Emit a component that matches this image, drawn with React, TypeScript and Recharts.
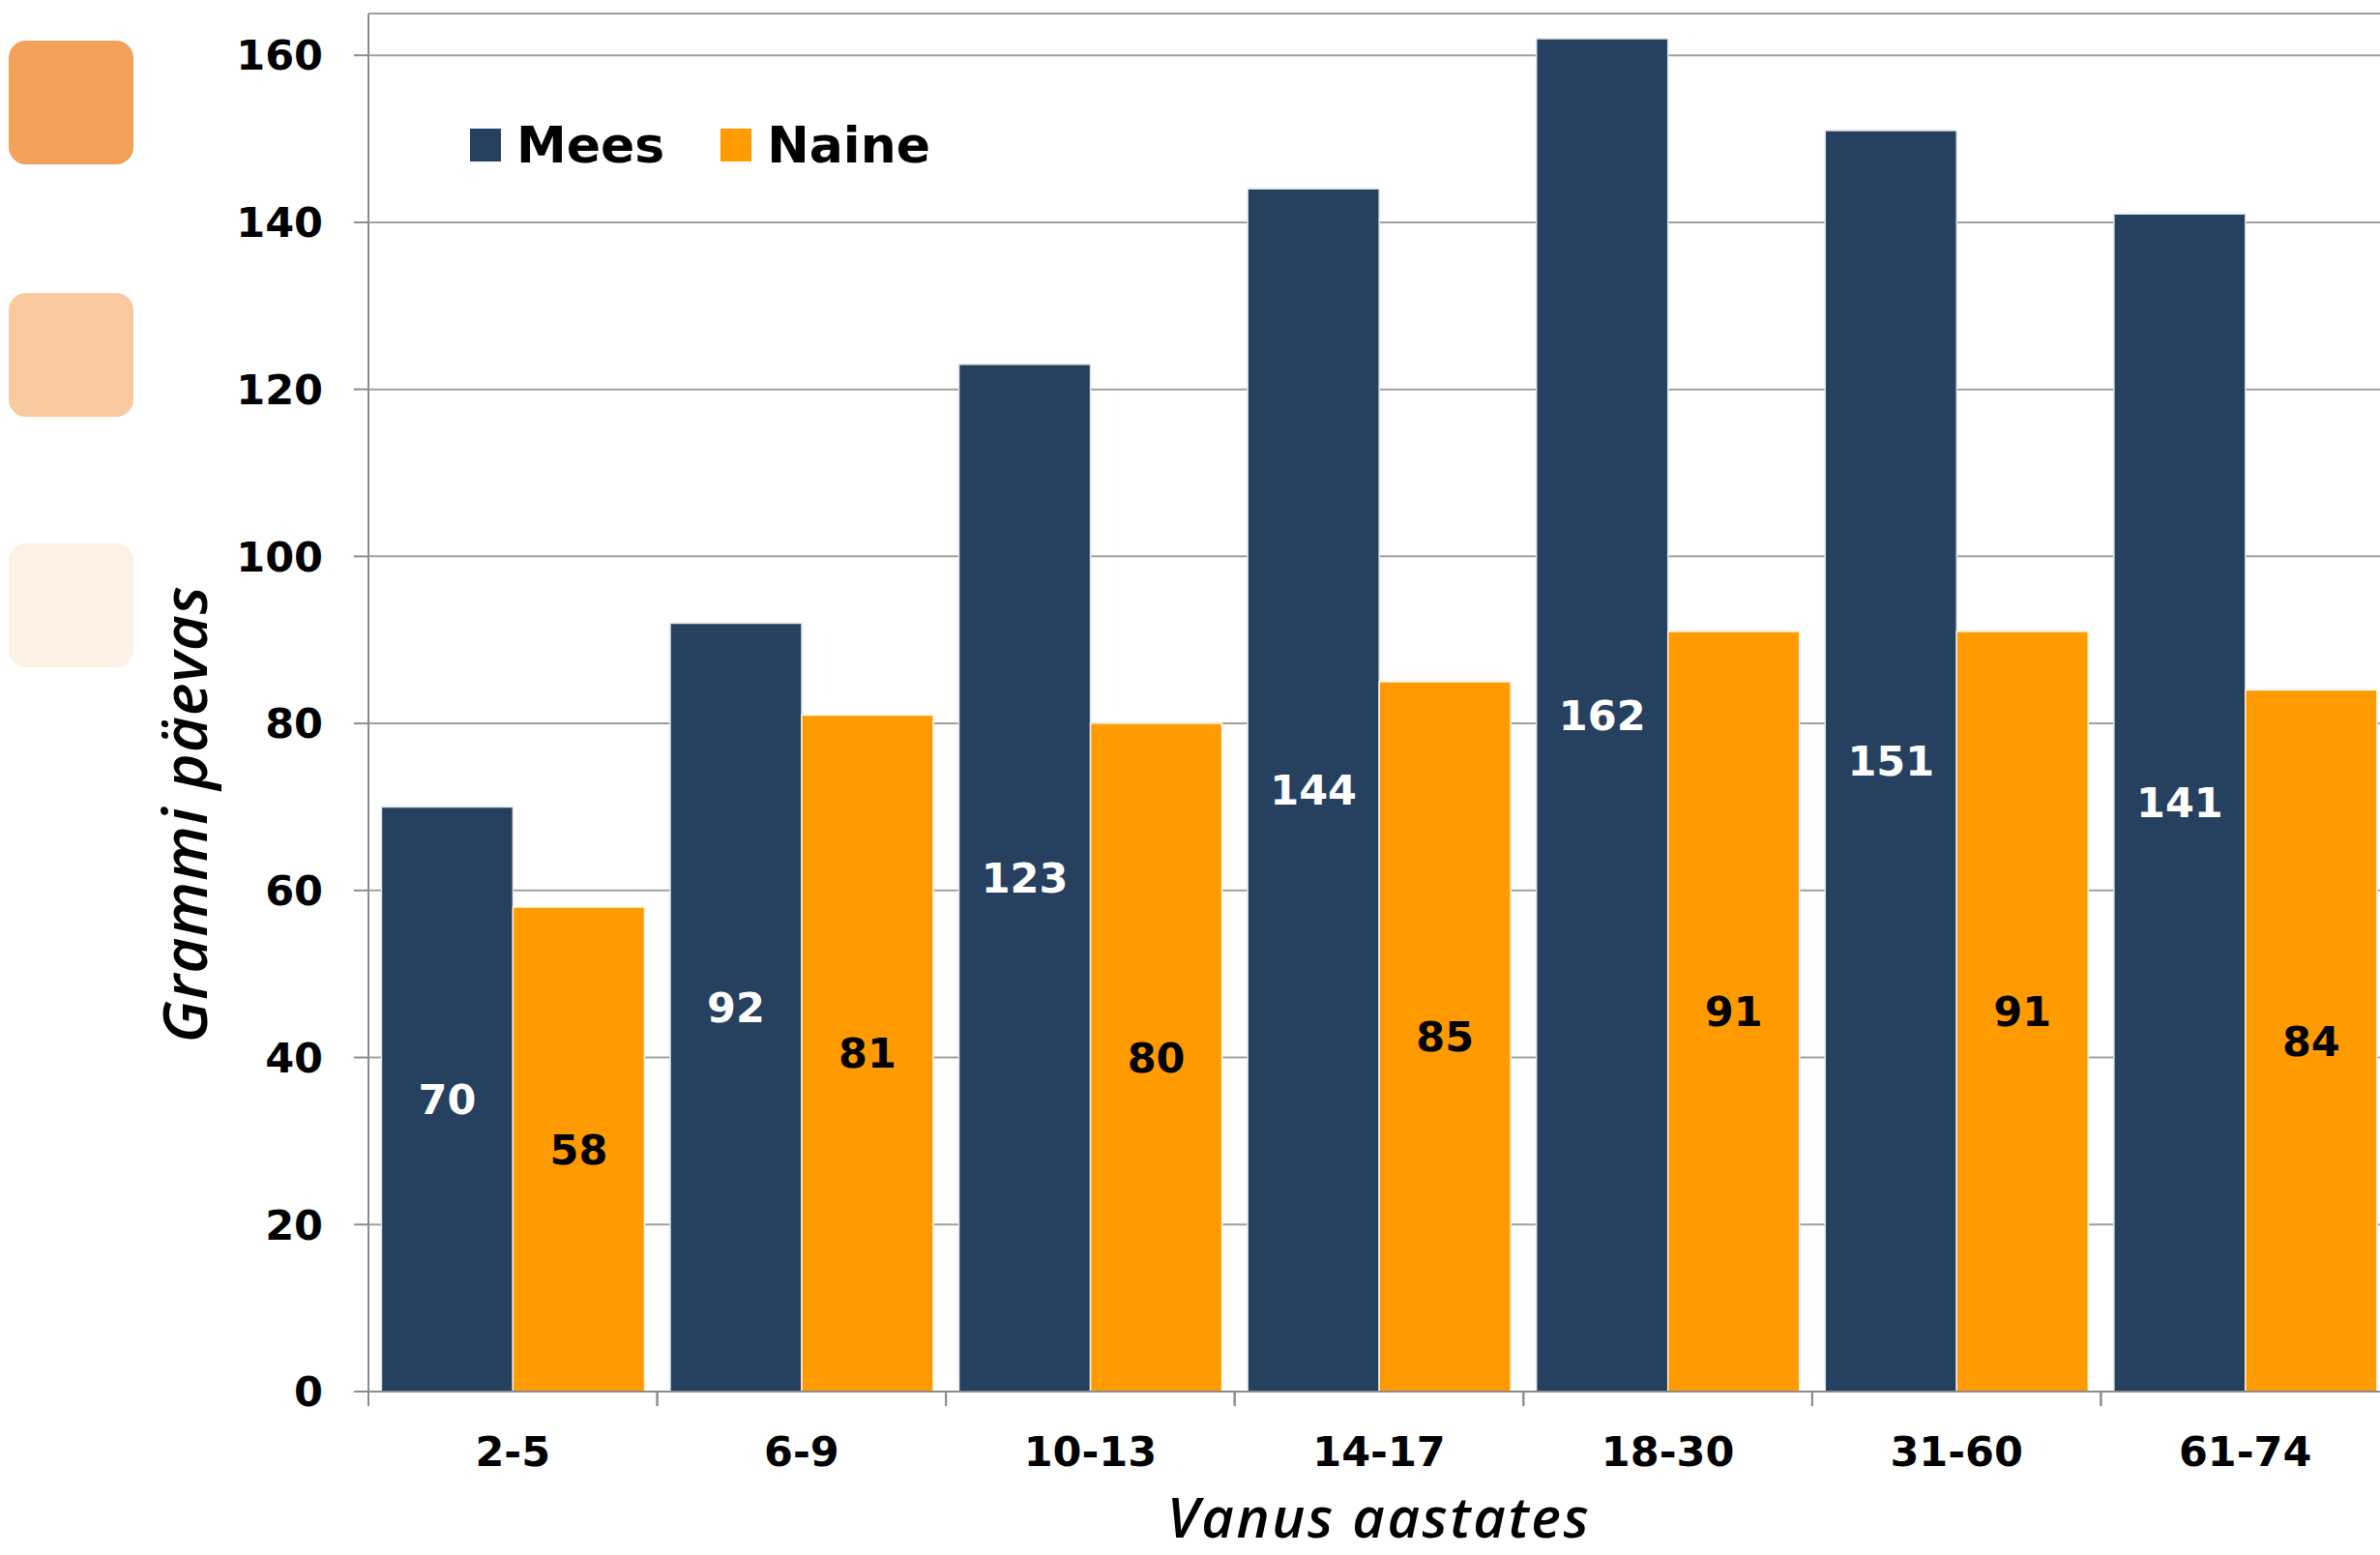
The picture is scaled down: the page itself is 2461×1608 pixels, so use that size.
import { BarChart, Bar, XAxis, YAxis, CartesianGrid, Legend, LabelList } from 'recharts'

// age groups and grams per day
const categories = ['2-5', '6-9', '10-13', '14-17', '18-30', '31-60', '61-74']
const meesValues = [70, 92, 123, 144, 162, 151, 141]
const naineValues = [58, 81, 80, 85, 91, 91, 84]
const yTicks = [0, 20, 40, 60, 80, 100, 120, 140, 160]

const data = categories.map((group, i) => ({
  group,
  Mees: meesValues[i],
  Naine: naineValues[i]
}))

const FONT = '"DejaVu Sans", sans-serif'
const TITLE_FONT = '"Open Sans", sans-serif'
const AXIS_GREY = '#8c8c8c'

const CategoryTick = (props: any) => {
  const { x, y, payload } = props
  const half = payload.offset || 149
  return (
    <g>
      <line x1={x - half} y1={y} x2={x - half} y2={y + 15} stroke={AXIS_GREY} strokeWidth={2} />
      <line x1={x + half} y1={y} x2={x + half} y2={y + 15} stroke={AXIS_GREY} strokeWidth={2} />
      <text x={x} y={y + 46} dy="0.71em" textAnchor="middle" fill="#000" fontSize={43} fontWeight={700} fontFamily={FONT}>
        {payload.value}
      </text>
    </g>
  )
}

const LegendContent = (props: any) => {
  const { payload = [] } = props
  return (
    <div style={{ display: 'flex', alignItems: 'center', lineHeight: 1 }}>
      {payload.map((p: any, i: number) => (
        <div key={`leg-${i}`} style={{ display: 'flex', alignItems: 'center', marginRight: 58 }}>
          <span style={{ display: 'inline-block', width: 32, height: 34, background: p.color, marginRight: 16 }} />
          <span style={{ fontSize: 52, fontWeight: 700, color: '#000', fontFamily: FONT }}>{p.value}</span>
        </div>
      ))}
    </div>
  )
}

const decoBoxes = [
  { top: 42, color: '#f3a15a' },
  { top: 303, color: '#f9c9a0' },
  { top: 562, color: '#fdf0e4' }
]

export default function App() {
  return (
    <div style={{ position: 'absolute', left: 0, top: 0, width: 2461, height: 1608, overflow: 'hidden', background: '#fff' }}>
      {decoBoxes.map((b, i) => (
        <div
          key={`deco-${i}`}
          style={{ position: 'absolute', left: 9, top: b.top, width: 129, height: 128, borderRadius: 18, background: b.color }}
        />
      ))}
      <BarChart
        width={2490}
        height={1608}
        data={data}
        margin={{ top: 14, right: 19, bottom: 49, left: 181 }}
        barCategoryGap="4.5%"
        barGap={0}
      >
        <CartesianGrid vertical={false} stroke="#a0a0a0" strokeWidth={2} />
        <XAxis
          dataKey="group"
          height={120}
          interval={0}
          axisLine={{ stroke: AXIS_GREY, strokeWidth: 2 }}
          tickLine={false}
          tickSize={0}
          tickMargin={0}
          tick={<CategoryTick />}
          label={{
            content: (p: any) => {
              const vb = p.viewBox || { x: 381, width: 2090 }
              return (
                <text x={vb.x + vb.width / 2} y={1590} textAnchor="middle" fill="#000" fontSize={58} letterSpacing={2.5} fontStyle="italic" fontWeight={600} fontFamily={TITLE_FONT}>
                  Vanus aastates
                </text>
              )
            }
          }}
        />
        <YAxis
          width={200}
          domain={[0, 165]}
          ticks={yTicks}
          interval={0}
          axisLine={{ stroke: AXIS_GREY, strokeWidth: 2 }}
          tickLine={{ stroke: AXIS_GREY, strokeWidth: 2 }}
          tickSize={15}
          tickMargin={32}
          tick={{ fill: '#000', fontSize: 43, fontWeight: 700, fontFamily: FONT }}
          label={{
            content: () => (
              <text x={189} y={842} transform="rotate(-90 189 842)" dominantBaseline="central" textAnchor="middle" fill="#000" fontSize={64} letterSpacing={1} fontStyle="italic" fontWeight={600} fontFamily={TITLE_FONT}>
                Grammi päevas
              </text>
            )
          }}
        />
        <Legend
          layout="horizontal"
          verticalAlign="middle"
          align="center"
          content={<LegendContent />}
          wrapperStyle={{ top: 124, left: 486, width: 'auto', height: 'auto' }}
        />
        <Bar dataKey="Mees" fill="#26405f" stroke="#dfe4ea" strokeWidth={1.5} isAnimationActive={false}>
          <LabelList dataKey="Mees" position="center" fill="#fff" fontSize={43} fontWeight={700} fontFamily={FONT} />
        </Bar>
        <Bar dataKey="Naine" fill="#ff9a00" stroke="#fff3e0" strokeWidth={1.5} isAnimationActive={false}>
          <LabelList dataKey="Naine" position="center" fill="#000" fontSize={43} fontWeight={700} fontFamily={FONT} />
        </Bar>
      </BarChart>
    </div>
  )
}
